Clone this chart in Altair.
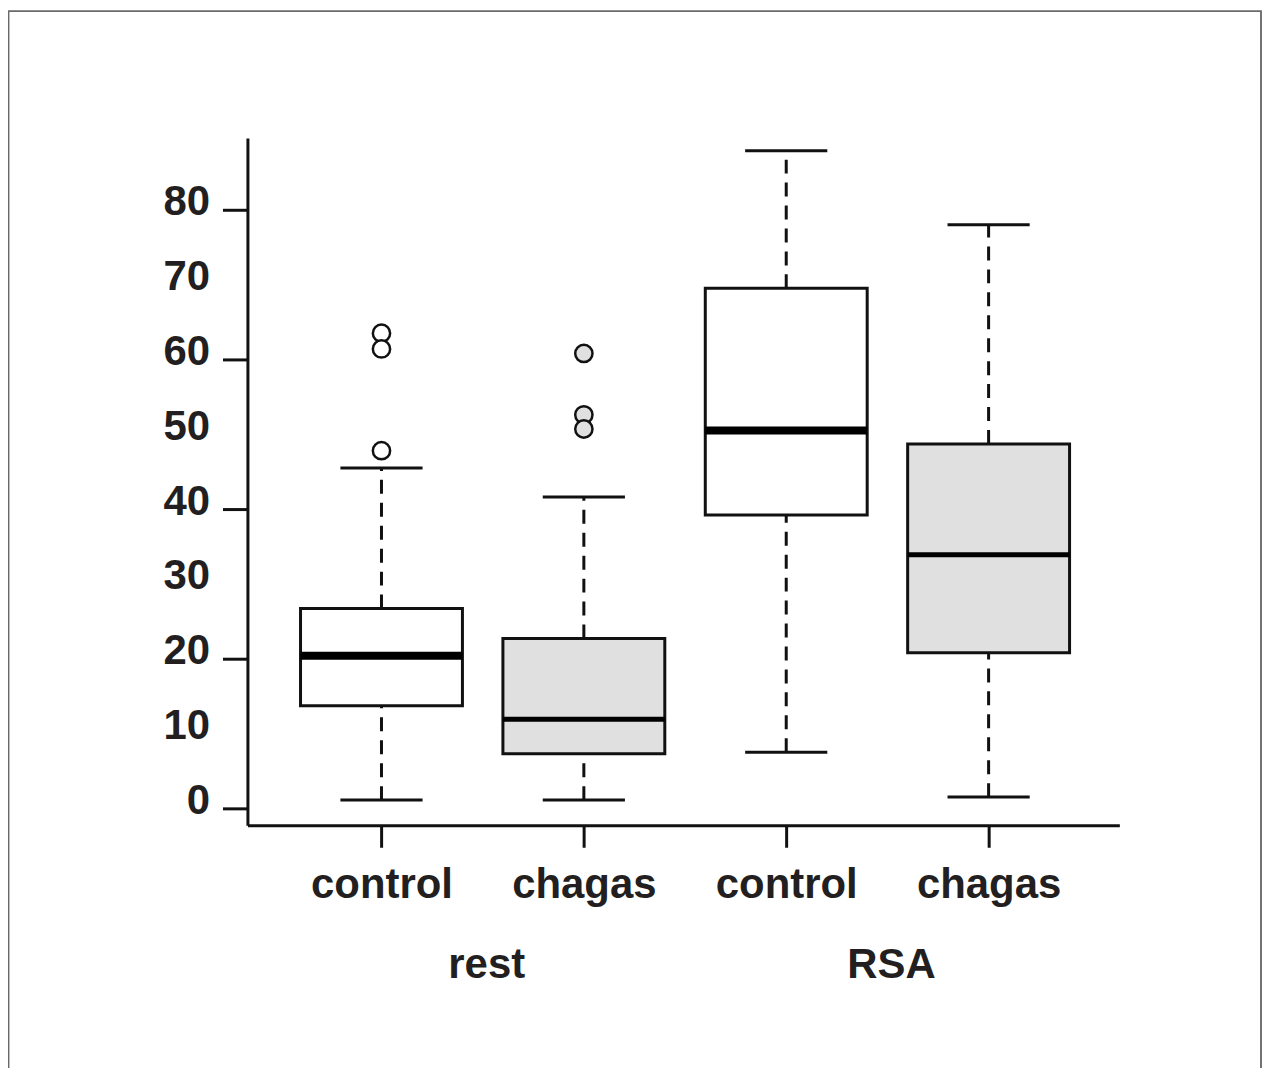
import altair as alt
import pandas as pd

# ---- data ----
groups = ["rest", "rest", "RSA", "RSA"]
subjects = ["control", "chagas", "control", "chagas"]
positions = [1, 2, 3, 4]
whisker_low = [1.1, 1.1, 7.5, 1.5]
q1 = [13.7, 7.3, 39.2, 20.8]
median = [20.4, 11.9, 50.5, 33.9]
q3 = [26.7, 22.7, 69.5, 48.7]
whisker_high = [45.5, 41.6, 87.9, 78.0]
median_width = [8, 5, 8, 5]
fills = ["#ffffff", "#e0e0e0", "#ffffff", "#e0e0e0"]

outlier_pos = [1, 1, 1, 2, 2, 2]
outlier_val = [63.5, 61.4, 47.8, 60.8, 52.6, 50.7]
outlier_fill = ["#ffffff", "#ffffff", "#ffffff", "#e0e0e0", "#e0e0e0", "#e0e0e0"]

group_names = ["rest", "RSA"]
group_pos = [1.52, 3.52]

FONT = "Liberation Sans Narrow, Liberation Sans, Arial, sans-serif"
FS = 42
TXT = "#231f20"
LINE = "#111111"

box_df = pd.DataFrame({
    "group": groups, "subject": subjects, "pos": positions,
    "wlo": whisker_low, "q1": q1, "med": median, "q3": q3, "whi": whisker_high,
    "mw": median_width, "fill": fills,
})
out_df = pd.DataFrame({"pos": outlier_pos, "val": outlier_val, "fill": outlier_fill})
grp_df = pd.DataFrame({"name": group_names, "pos": group_pos})

xscale = alt.Scale(domain=[0.3376, 4.646], nice=False, zero=False)
yscale = alt.Scale(domain=[-2.27, 89.6], nice=False, zero=False)

xaxis = alt.Axis(
    values=positions, title=None, grid=False,
    labelExpr="datum.value % 2 === 1 ? 'control' : 'chagas'",
    labelFont=FONT, labelFontSize=FS, labelFontWeight="bold", labelColor=TXT,
    labelPadding=17, tickSize=22, tickWidth=3, tickColor=LINE,
    domainWidth=3, domainColor=LINE, labelBaseline="top",
)
yaxis = alt.Axis(
    values=list(range(0, 90, 10)), title=None, grid=False,
    labelFont=FONT, labelFontSize=FS, labelFontWeight="bold", labelColor=TXT,
    labelPadding=13, labelOffset=-8, tickSize=25, tickWidth=3, tickColor=LINE,
    tickOpacity={"condition": {"test": "datum.value % 20 === 0", "value": 1}, "value": 0},
    domainWidth=3, domainColor=LINE,
)

base = alt.Chart(box_df)

whisk_lo = base.mark_rule(strokeWidth=3, strokeDash=[14, 9], color=LINE).encode(
    x=alt.X("pos:Q", scale=xscale, axis=xaxis),
    y=alt.Y("wlo:Q", scale=yscale, axis=yaxis),
    y2="q1:Q",
)
whisk_hi = base.mark_rule(strokeWidth=3, strokeDash=[14, 9], color=LINE).encode(
    x="pos:Q", y="q3:Q", y2="whi:Q",
)

boxes = base.transform_calculate(
    lo="datum.pos - 0.4", hi="datum.pos + 0.4"
).mark_rect(stroke=LINE, strokeWidth=3).encode(
    x="lo:Q", x2="hi:Q", y="q1:Q", y2="q3:Q",
    fill=alt.Fill("fill:N", scale=None),
)

medians = base.transform_calculate(
    lo="datum.pos - 0.4", hi="datum.pos + 0.4"
).mark_rule(color="#000000").encode(
    x="lo:Q", x2="hi:Q", y="med:Q",
    strokeWidth=alt.StrokeWidth("mw:Q", scale=None),
)

caps_lo = base.transform_calculate(
    lo="datum.pos - 0.203", hi="datum.pos + 0.203"
).mark_rule(color=LINE, strokeWidth=3).encode(
    x="lo:Q", x2="hi:Q", y="wlo:Q",
)
caps_hi = base.transform_calculate(
    lo="datum.pos - 0.203", hi="datum.pos + 0.203"
).mark_rule(color=LINE, strokeWidth=3).encode(
    x="lo:Q", x2="hi:Q", y="whi:Q",
)

outliers = alt.Chart(out_df).mark_point(
    shape="circle", size=300, strokeWidth=2.5, stroke=LINE, opacity=1, filled=False
).encode(
    x="pos:Q", y="val:Q",
    fill=alt.Fill("fill:N", scale=None),
)

group_labels = alt.Chart(grp_df).mark_text(
    font=FONT, fontSize=FS, fontWeight="bold", color=TXT, baseline="middle", align="center"
).encode(
    x="pos:Q", y=alt.value(829), text="name:N",
)

frame = alt.Chart(grp_df).mark_rect(
    fill=None, stroke="#6a6a6a", strokeWidth=1.5
).encode(
    x=alt.value(-239.5), x2=alt.value(1016), y=alt.value(-127), y2=alt.value(990),
)

chart = alt.layer(
    whisk_lo, whisk_hi, boxes, medians, caps_lo, caps_hi, outliers, group_labels, frame
).properties(
    width=874, height=689,
    autosize=alt.AutoSizeParams(type="none"),
    padding={"left": 240, "top": 129, "right": 144, "bottom": 242},
    background="#ffffff",
).configure_view(stroke=None)

chart.save("out.html", embed_options={"renderer": "svg", "actions": False})
